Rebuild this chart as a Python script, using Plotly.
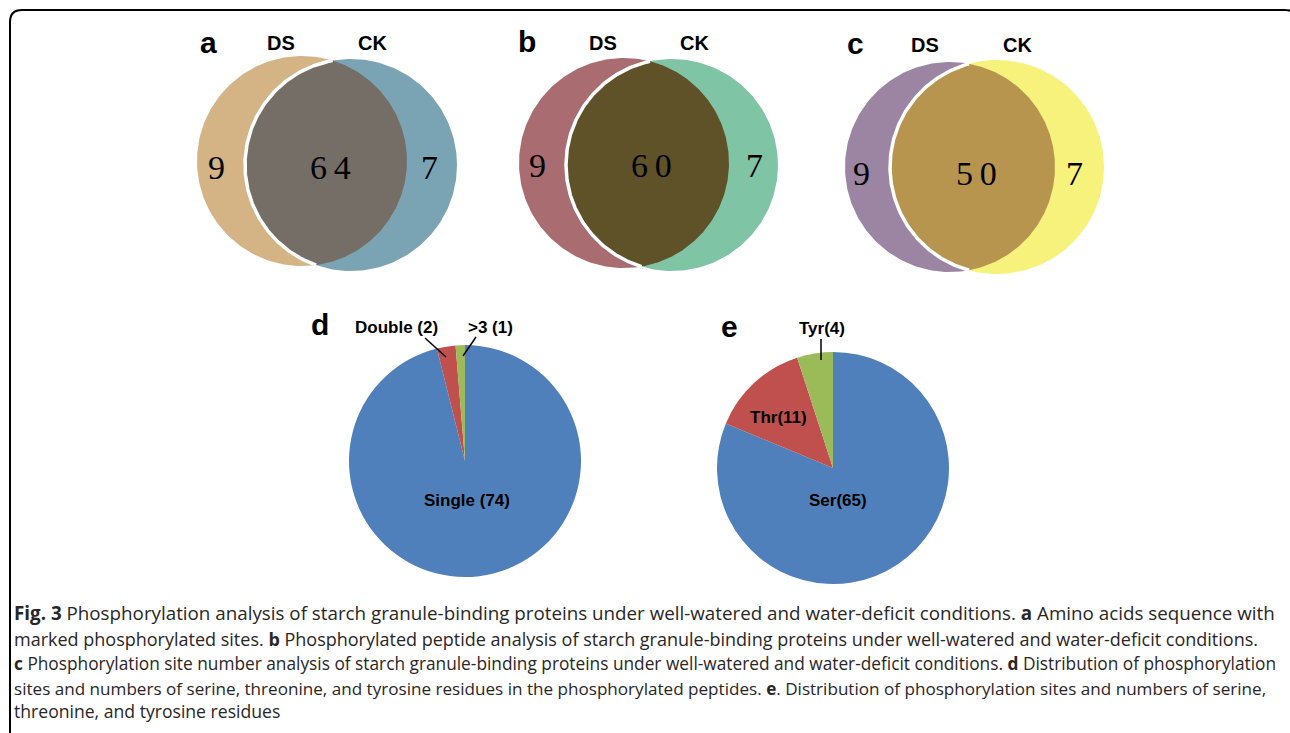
import numpy as np
import plotly.graph_objects as go

# ---------------- data ----------------
venn_panels = ["a", "b", "c"]
venn_set_names = ["DS", "CK"]
ds_only = [9, 9, 9]
shared = [64, 60, 50]
ck_only = [7, 7, 7]

pie_d_labels = ["Single (74)", "Double (2)", ">3 (1)"]
pie_d_values = [74, 2, 1]
pie_e_labels = ["Ser(65)", "Thr(11)", "Tyr(4)"]
pie_e_values = [65, 11, 4]

caption_lines = [
    "<b>Fig. 3</b> Phosphorylation analysis of starch granule-binding proteins under well-watered and water-deficit conditions. <b>a</b> Amino acids sequence with",
    "marked phosphorylated sites. <b>b</b> Phosphorylated peptide analysis of starch granule-binding proteins under well-watered and water-deficit conditions.",
    "<b>c</b> Phosphorylation site number analysis of starch granule-binding proteins under well-watered and water-deficit conditions. <b>d</b> Distribution of phosphorylation",
    "sites and numbers of serine, threonine, and tyrosine residues in the phosphorylated peptides. <b>e</b>. Distribution of phosphorylation sites and numbers of serine,",
    "threonine, and tyrosine residues",
]

# ---------------- layout / style ----------------
W, H = 1290, 733
venn_geom = [  # (ds cx, cy, r), (ck cx, cy, r)
    ((302, 161, 105), (351, 165, 106)),
    ((624, 163, 105), (672, 165, 106)),
    ((950, 167, 105), (997, 167, 107)),
]
venn_colors = [
    ("#D4B484", "#7AA4B4", "#756E66"),
    ("#A96C70", "#80C4A6", "#5F5229"),
    ("#9C85A3", "#F6F27C", "#B8954F"),
]
venn_letter_pos = [(208, 42), (527, 41), (855, 43)]
venn_name_pos = [((281, 43), (372, 43)), ((603, 43), (694, 43)), ((925, 45), (1017, 45))]
venn_num_pos = [((216, 167), (330, 167), (429, 167)),
                ((537, 165), (651, 165), (754, 165)),
                ((861, 173), (976, 173), (1074, 173))]

pie_colors = ["#4F80BB", "#C0504D", "#9BBB59"]

fig = go.Figure()


def arc(cx, cy, r, t0, t1, n=200):
    t = np.linspace(t0, t1, n)
    return cx + r * np.cos(t), cy + r * np.sin(t)


annotations = []
shapes = []
for i in range(3):
    (x1, y1, r1), (x2, y2, r2) = venn_geom[i]
    c_ds, c_ck, c_ov = venn_colors[i]
    xs, ys = arc(x1, y1, r1, 0, 2 * np.pi, 300)
    fig.add_trace(go.Scatter(x=xs, y=ys, fill="toself", fillcolor=c_ds, mode="lines",
                             line=dict(width=0, color=c_ds), hoverinfo="skip", showlegend=False))
    xs, ys = arc(x2, y2, r2, 0, 2 * np.pi, 300)
    fig.add_trace(go.Scatter(x=xs, y=ys, fill="toself", fillcolor=c_ck, mode="lines",
                             line=dict(width=0, color=c_ck), hoverinfo="skip", showlegend=False))
    d = np.hypot(x2 - x1, y2 - y1)
    a = (r1 ** 2 - r2 ** 2 + d ** 2) / (2 * d)
    al1 = np.arccos(a / r1)
    al2 = np.arccos((d - a) / r2)
    phi1 = np.arctan2(y2 - y1, x2 - x1)
    phi2 = np.arctan2(y1 - y2, x1 - x2)
    ax1, ay1 = arc(x1, y1, r1, phi1 - al1, phi1 + al1)
    ax2, ay2 = arc(x2, y2, r2, phi2 - al2, phi2 + al2)
    fig.add_trace(go.Scatter(x=np.concatenate([ax1, ax2]), y=np.concatenate([ay1, ay2]),
                             fill="toself", fillcolor=c_ov, mode="lines",
                             line=dict(width=0, color=c_ov), hoverinfo="skip", showlegend=False))
    fig.add_trace(go.Scatter(x=ax2, y=ay2, mode="lines", line=dict(width=3.5, color="white"),
                             hoverinfo="skip", showlegend=False))

    lx, ly = venn_letter_pos[i]
    annotations.append(dict(x=lx, y=ly, text="<b>%s</b>" % venn_panels[i], showarrow=False,
                            font=dict(family="Liberation Sans, Arial", size=30, color="black")))
    for (nx, ny), name in zip(venn_name_pos[i], venn_set_names):
        annotations.append(dict(x=nx, y=ny, text="<b>%s</b>" % name, showarrow=False,
                                font=dict(family="Liberation Sans, Arial", size=20, color="black")))
    for (nx, ny), val in zip(venn_num_pos[i], [ds_only[i], shared[i], ck_only[i]]):
        annotations.append(dict(x=nx, y=ny, text="\u2009".join(str(val)),
                                showarrow=False,
                                font=dict(family="Liberation Serif, Times New Roman", size=34,
                                          color="black")))

# ---------------- pies ----------------
def dom(cx, cy, r):
    return dict(x=[(cx - r) / W, (cx + r) / W], y=[(H - cy - r) / H, (H - cy + r) / H])


fig.add_trace(go.Pie(labels=pie_d_labels, values=pie_d_values, sort=False, direction="clockwise",
                     rotation=0, marker=dict(colors=pie_colors, line=dict(width=0)),
                     textinfo="none", hoverinfo="label+value", showlegend=False,
                     domain=dom(465, 461, 116)))
fig.add_trace(go.Pie(labels=pie_e_labels, values=pie_e_values, sort=False, direction="clockwise",
                     rotation=0, marker=dict(colors=pie_colors, line=dict(width=0)),
                     textinfo="none", hoverinfo="label+value", showlegend=False,
                     domain=dom(833, 468, 116)))

pie_label_pos = {
    "Single (74)": (467, 500), "Double (2)": (396, 327), ">3 (1)": (490, 327),
    "Ser(65)": (838, 500), "Thr(11)": (778, 417), "Tyr(4)": (822, 328),
}
for lab in pie_d_labels + pie_e_labels:
    px, py = pie_label_pos[lab]
    annotations.append(dict(x=px, y=py, text="<b>%s</b>" % lab.replace(">", "&gt;"),
                            showarrow=False,
                            font=dict(family="Liberation Sans, Arial", size=17, color="black")))
for lab, (px, py) in [("d", (320, 324)), ("e", (729, 326))]:
    annotations.append(dict(x=px, y=py, text="<b>%s</b>" % lab, showarrow=False,
                            font=dict(family="Liberation Sans, Arial", size=30, color="black")))

leaders = [((425, 338), (446, 357)), ((476, 337), (463, 356)), ((821, 339), (821, 360))]
for (xa, ya), (xb, yb) in leaders:
    shapes.append(dict(type="line", xref="x", yref="y", x0=xa, y0=ya, x1=xb, y1=yb,
                       line=dict(color="black", width=1.5)))

# ---------------- caption ----------------
cap_y = [613, 639, 663, 688, 711]
cap_size = [18.8, 18.0, 17.3, 17.1, 17.6]
for txt, cy, fs in zip(caption_lines, cap_y, cap_size):
    annotations.append(dict(x=12, y=cy, text=txt, showarrow=False, xanchor="left",
                            yanchor="middle",
                            font=dict(family="Open Sans, Liberation Sans", size=fs,
                                      color="#2a2626")))

# frame (right edge lies just beyond the picture)
shapes.append(dict(type="path", xref="x", yref="y",
                   path="M 10,760 L 10,22 Q 10,10 22,10 L 1285,10 Q 1297,10 1297,22 L 1297,760",
                   line=dict(color="black", width=2)))

fig.update_layout(
    width=W, height=H, margin=dict(l=0, r=0, t=0, b=0),
    paper_bgcolor="white", plot_bgcolor="white",
    xaxis=dict(range=[0, W], visible=False, fixedrange=True),
    yaxis=dict(range=[H, 0], visible=False, fixedrange=True),
    annotations=[dict(xref="x", yref="y", **a) for a in annotations],
    shapes=shapes,
)
fig.write_html("out.html", post_script="document.body.style.margin='0';",
               config={"displayModeBar": False})
